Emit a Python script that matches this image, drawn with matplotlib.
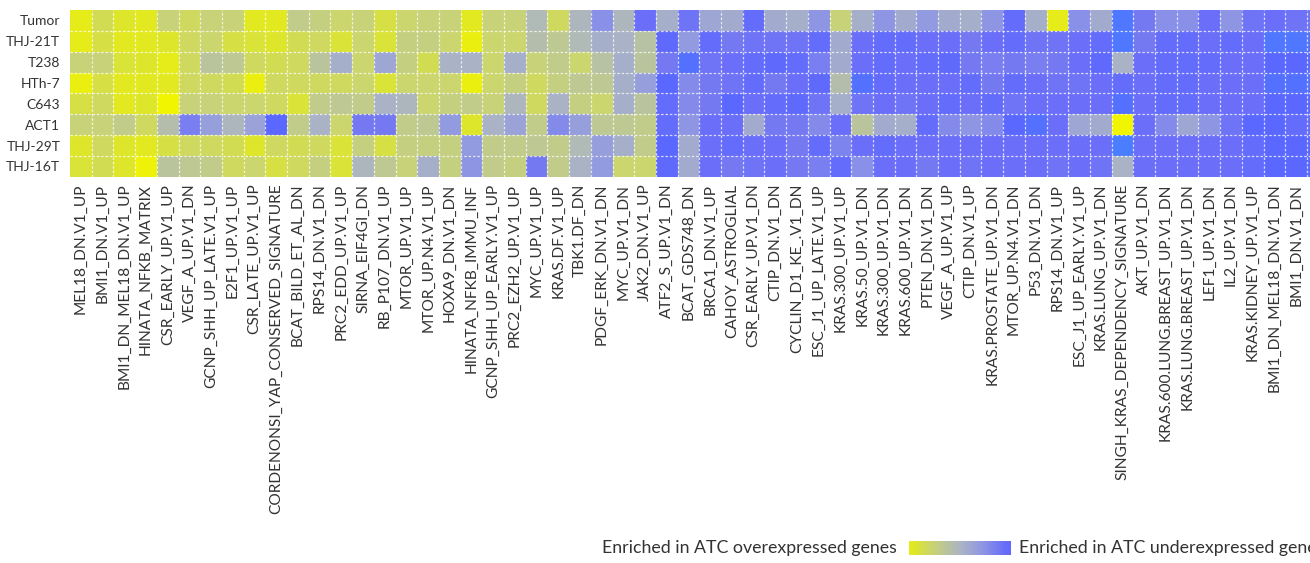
import numpy as np
import matplotlib
matplotlib.use("Agg")
import matplotlib.pyplot as plt
from matplotlib.colors import LinearSegmentedColormap

plt.rcParams['font.family'] = ['Lato', 'DejaVu Sans']

samples = ["Tumor", "THJ-21T", "T238", "HTh-7", "C643", "ACT1", "THJ-29T", "THJ-16T"]

gene_sets = [
    "MEL18_DN.V1_UP", "BMI1_DN.V1_UP", "BMI1_DN_MEL18_DN.V1_UP", "HINATA_NFKB_MATRIX",
    "CSR_EARLY_UP.V1_UP", "VEGF_A_UP.V1_DN", "GCNP_SHH_UP_LATE.V1_UP", "E2F1_UP.V1_UP",
    "CSR_LATE_UP.V1_UP", "CORDENONSI_YAP_CONSERVED_SIGNATURE", "BCAT_BILD_ET_AL_DN",
    "RPS14_DN.V1_DN", "PRC2_EDD_UP.V1_UP", "SIRNA_EIF4GI_DN", "RB_P107_DN.V1_UP",
    "MTOR_UP.V1_UP", "MTOR_UP.N4.V1_UP", "HOXA9_DN.V1_DN", "HINATA_NFKB_IMMU_INF",
    "GCNP_SHH_UP_EARLY.V1_UP", "PRC2_EZH2_UP.V1_UP", "MYC_UP.V1_UP", "KRAS.DF.V1_UP",
    "TBK1.DF_DN", "PDGF_ERK_DN.V1_DN", "MYC_UP.V1_DN", "JAK2_DN.V1_UP", "ATF2_S_UP.V1_DN",
    "BCAT_GDS748_DN", "BRCA1_DN.V1_UP", "CAHOY_ASTROGLIAL", "CSR_EARLY_UP.V1_DN",
    "CTIP_DN.V1_DN", "CYCLIN_D1_KE_.V1_DN", "ESC_J1_UP_LATE.V1_UP", "KRAS.300_UP.V1_UP",
    "KRAS.50_UP.V1_DN", "KRAS.300_UP.V1_DN", "KRAS.600_UP.V1_DN", "PTEN_DN.V1_DN",
    "VEGF_A_UP.V1_UP", "CTIP_DN.V1_UP", "KRAS.PROSTATE_UP.V1_DN", "MTOR_UP.N4.V1_DN",
    "P53_DN.V1_DN", "RPS14_DN.V1_UP", "ESC_J1_UP_EARLY.V1_UP", "KRAS.LUNG_UP.V1_DN",
    "SINGH_KRAS_DEPENDENCY_SIGNATURE", "AKT_UP.V1_DN", "KRAS.600.LUNG.BREAST_UP.V1_DN",
    "KRAS.LUNG.BREAST_UP.V1_DN", "LEF1_UP.V1_DN", "IL2_UP.V1_DN", "KRAS.KIDNEY_UP.V1_UP",
    "BMI1_DN_MEL18_DN.V1_DN", "BMI1_DN.V1_DN", "MEL18_DN.V1_DN",
]

# enrichment score: negative = enriched in ATC overexpressed genes (yellow),
# positive = enriched in ATC underexpressed genes (blue)
tumor = [-0.85, -0.6, -0.75, -0.8, -0.45, -0.55, -0.45, -0.45, -0.8, -0.8, -0.35, -0.4,
         -0.5, -0.45, -0.65, -0.5, -0.45, -0.45, -0.8, -0.45, -0.45, -0.1, -0.55, -0.05,
         0.4, -0.05, 0.7, 0.05, 0.65, 0.15, 0.1, 0.75, 0.1, 0.05, 0.35, -0.45,
         0.05, 0.35, 0.1, 0.3, 0.1, 0.05, 0.35, 0.75, 0.05, -0.85, 0.4, 0.1,
         0.95, 0.6, 0.4, 0.4, 0.7, 0.35, 0.65, 0.7, 0.65, 0.65]
thj21t = [-0.85, -0.65, -0.8, -0.8, -0.75, -0.55, -0.5, -0.65, -0.7, -0.75, -0.6, -0.55,
          -0.7, -0.5, -0.7, -0.4, -0.4, -0.5, -0.9, -0.5, -0.5, -0.15, -0.3, -0.1,
          0.05, 0.0, -0.2, 0.8, 0.3, 0.75, 0.6, 0.65, 0.65, 0.65, 0.75, 0.1,
          0.7, 0.75, 0.75, 0.7, 0.7, 0.6, 0.7, 0.75, 0.65, 0.65, 0.7, 0.75,
          0.95, 0.6, 0.75, 0.75, 0.7, 0.75, 0.7, 0.95, 0.95, 0.9]
t238 = [-0.45, -0.45, -0.7, -0.75, -0.85, -0.55, -0.25, -0.3, -0.55, -0.6, -0.55, -0.25,
        0.05, -0.5, 0.15, -0.4, -0.6, 0.0, 0.0, -0.5, 0.05, -0.45, -0.35, -0.5,
        -0.2, 0.05, -0.25, 0.6, 0.9, 0.65, 0.7, 0.75, 0.8, 0.75, 0.55, 0.1,
        0.7, 0.75, 0.7, 0.75, 0.8, 0.6, 0.55, 0.6, 0.55, 0.6, 0.7, 0.8,
        0.0, 0.7, 0.75, 0.75, 0.75, 0.7, 0.7, 0.85, 0.85, 0.85]
hth7 = [-0.9, -0.65, -0.8, -0.8, -0.8, -0.55, -0.55, -0.6, -0.9, -0.55, -0.55, -0.55,
        -0.55, -0.5, -0.7, -0.5, -0.5, -0.5, -0.9, -0.5, -0.4, -0.55, -0.4, -0.3,
        -0.3, 0.05, 0.25, 0.85, 0.45, 0.6, 0.65, 0.75, 0.6, 0.7, 0.8, -0.15,
        0.9, 0.75, 0.7, 0.7, 0.7, 0.75, 0.6, 0.75, 0.7, 0.65, 0.65, 0.7,
        0.75, 0.7, 0.75, 0.75, 0.7, 0.7, 0.7, 0.9, 0.9, 0.9]
c643 = [-0.65, -0.55, -0.8, -0.75, -1.0, -0.45, -0.45, -0.5, -0.5, -0.55, -0.7, -0.35,
        -0.3, -0.35, 0.0, -0.05, -0.5, -0.4, -0.35, -0.45, -0.05, -0.55, 0.0, -0.4,
        -0.5, 0.05, -0.25, 0.75, 0.45, 0.6, 0.85, 0.7, 0.75, 0.8, 0.65, 0.05,
        0.65, 0.7, 0.65, 0.7, 0.75, 0.7, 0.75, 0.65, 0.7, 0.7, 0.7, 0.7,
        0.9, 0.7, 0.75, 0.75, 0.7, 0.7, 0.7, 0.85, 0.85, 0.85]
act1 = [-0.45, -0.45, -0.35, -0.55, -0.15, 0.55, 0.25, -0.05, 0.2, 0.85, -0.35, 0.0,
        -0.5, 0.6, 0.6, -0.35, -0.3, 0.3, -0.75, 0.0, 0.2, -0.35, 0.45, 0.25,
        -0.3, -0.3, -0.35, 0.75, 0.35, 0.7, 0.7, 0.1, 0.6, 0.6, 0.45, 0.7,
        -0.25, 0.1, 0.05, 0.75, 0.45, 0.35, 0.45, 0.85, 0.9, 0.7, 0.15, 0.1,
        -1.0, 0.7, 0.45, 0.15, 0.35, 0.65, 0.85, 0.85, 0.75, 0.75]
thj29t = [-0.75, -0.55, -0.75, -0.8, -0.65, -0.55, -0.55, -0.6, -0.75, -0.55, -0.6, -0.55,
          -0.7, -0.4, -0.65, -0.4, -0.4, -0.4, 0.3, -0.35, -0.35, -0.3, -0.35, -0.1,
          0.25, 0.05, -0.35, 0.85, 0.1, 0.7, 0.75, 0.7, 0.7, 0.6, 0.75, 0.5,
          0.7, 0.75, 0.7, 0.7, 0.7, 0.7, 0.7, 0.7, 0.7, 0.7, 0.7, 0.7,
          1.0, 0.7, 0.7, 0.7, 0.7, 0.7, 0.75, 0.85, 0.85, 0.85]
thj16t = [-0.7, -0.6, -0.75, -0.95, -0.25, -0.3, -0.35, -0.55, -0.5, -0.65, -0.55, -0.4,
          -0.7, -0.05, -0.3, -0.45, 0.05, -0.4, 0.35, -0.35, -0.4, 0.6, -0.35, 0.0,
          0.3, -0.5, -0.5, 0.8, 0.1, 0.7, 0.6, 0.65, 0.7, 0.6, 0.55, 0.75,
          0.4, 0.7, 0.7, 0.6, 0.7, 0.65, 0.7, 0.7, 0.7, 0.65, 0.7, 0.65,
          0.0, 0.7, 0.7, 0.7, 0.7, 0.7, 0.75, 0.85, 0.85, 0.85]

legend_left = "Enriched in ATC overexpressed genes"
legend_right = "Enriched in ATC underexpressed genes"

data = np.array([tumor, thj21t, t238, hth7, c643, act1, thj29t, thj16t])

cmap = LinearSegmentedColormap.from_list("atc", [
    (0.0, "#f2f500"), (0.125, "#dde62a"), (0.25, "#cbd66f"), (0.375, "#bac49c"),
    (0.5, "#aab3c6"), (0.675, "#8e96e4"), (0.85, "#6a6ef8"), (0.925, "#5a68ff"),
    (1.0, "#4a7eff")])

W, H = 1310, 563
fig = plt.figure(figsize=(W / 100, H / 100), dpi=100)
cell_w, cell_h = 21.7, 20.85
n_rows, n_cols = data.shape
left_px, top_px = 70, 10
ax = fig.add_axes([left_px / W, 1 - (top_px + n_rows * cell_h) / H,
                   n_cols * cell_w / W, n_rows * cell_h / H])
ax.pcolormesh(data, cmap=cmap, vmin=-1, vmax=1)
ax.set_xlim(0, n_cols)
ax.set_ylim(n_rows, 0)
for k in range(1, n_cols):
    ax.axvline(k, color="white", lw=0.9, ls=(0, (2, 1.5)), alpha=0.75)
for k in range(1, n_rows):
    ax.axhline(k, color="white", lw=0.9, ls=(0, (2, 1.5)), alpha=0.75)
for s in ax.spines.values():
    s.set_visible(False)
ax.set_xticks(np.arange(n_cols) + 0.5)
ax.set_xticklabels(gene_sets, rotation=90, fontsize=11.2, color="#333333")
ax.set_yticks(np.arange(n_rows) + 0.5)
ax.set_yticklabels(samples, fontsize=10, color="#333333")
ax.tick_params(length=0)
ax.tick_params(axis="x", pad=5)
ax.tick_params(axis="y", pad=7)

# legend
ly = 548
fig.text(897 / W, 1 - ly / H, legend_left, ha="right", va="center", fontsize=12.8, color="#333333")
cax = fig.add_axes([909 / W, 1 - (ly + 7) / H, 101 / W, 14 / H])
cax.imshow(np.linspace(-0.85, 0.8, 256)[None, :], aspect="auto", cmap=cmap, vmin=-1, vmax=1)
cax.axis("off")
fig.text(1019 / W, 1 - ly / H, legend_right, ha="left", va="center", fontsize=12.8, color="#333333")

fig.savefig("out.png", dpi=100)
